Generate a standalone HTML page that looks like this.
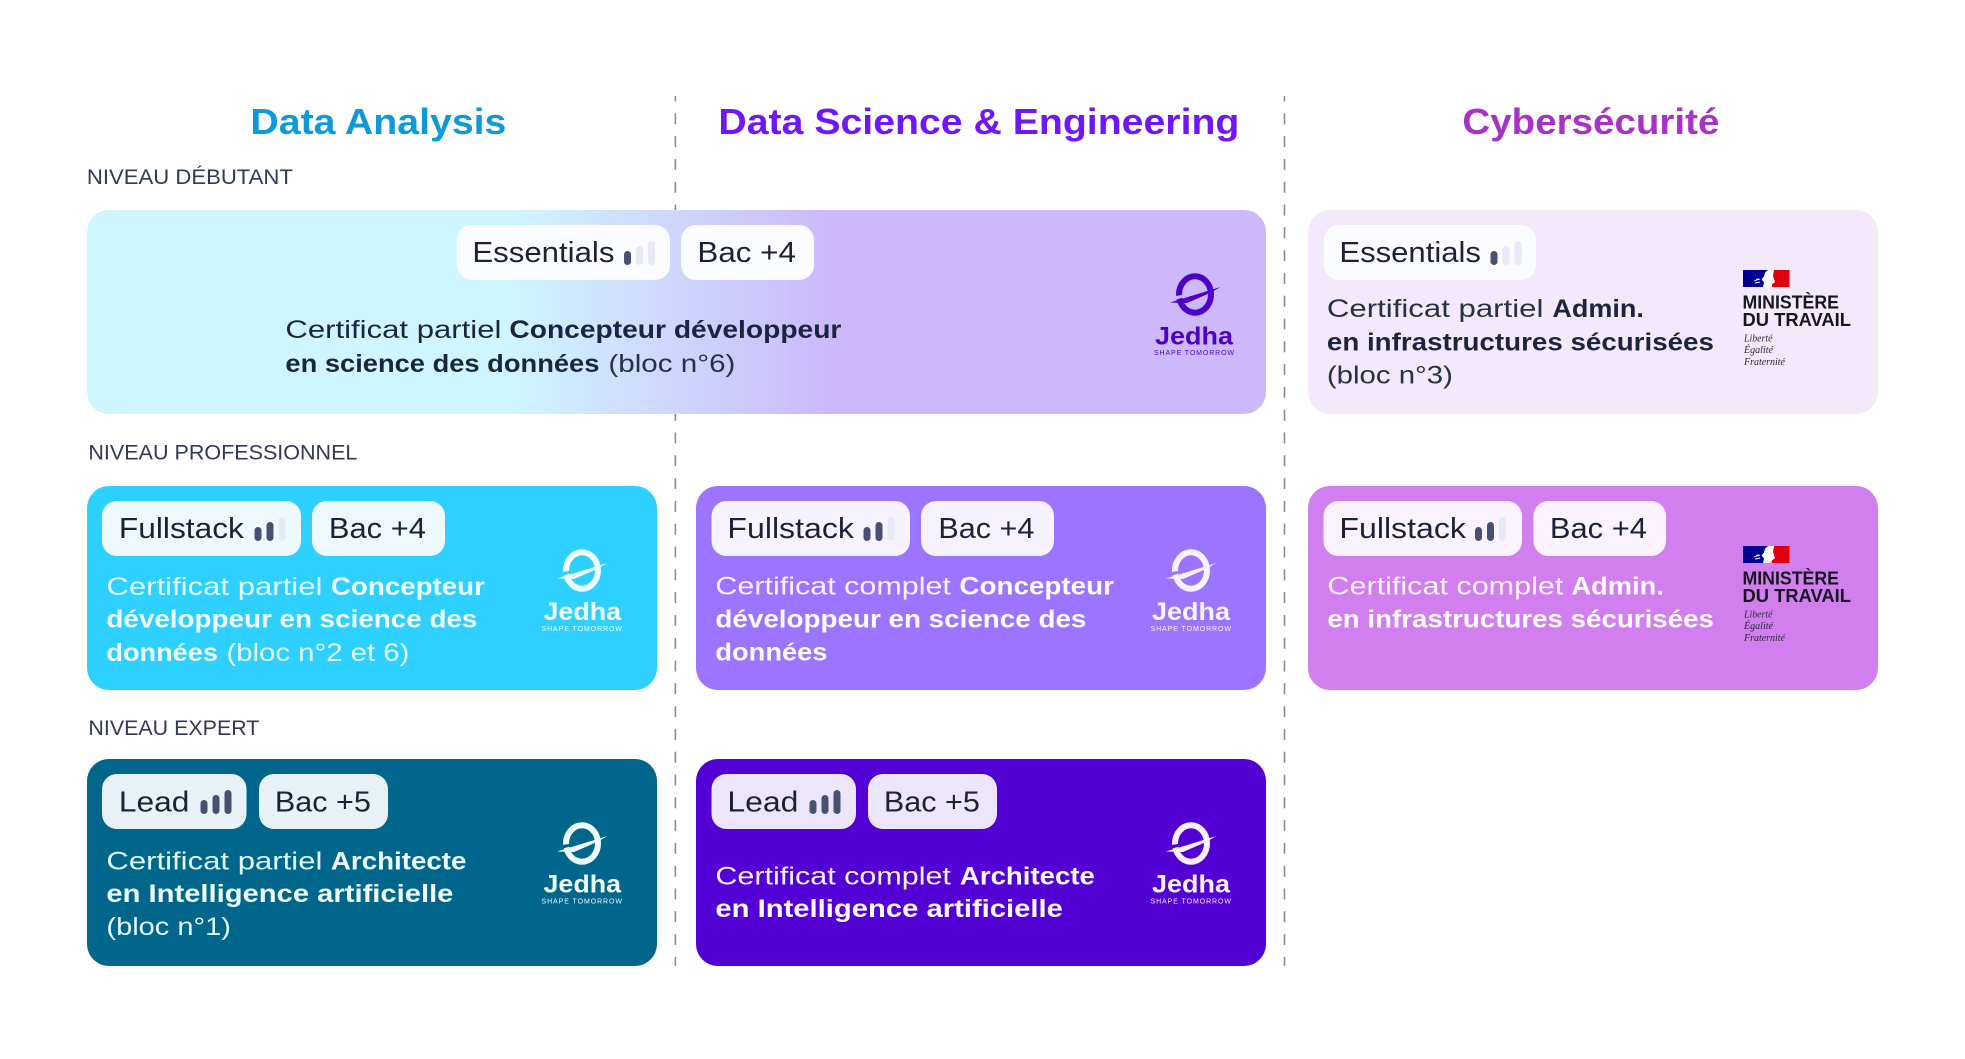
<!DOCTYPE html>
<html lang="fr"><head><meta charset="utf-8"><title>Parcours Jedha</title>
<style>
html,body{margin:0;padding:0;background:#fff}
svg{display:block}
text{font-family:"Liberation Sans",sans-serif}
.h,.n,.p,.c,.b{transform:translateX(-0.6px)}
.h{font-size:36px;font-weight:700}
.n{font-size:21px;fill:#2f3a58}
.p{font-size:29px;fill:#1b2238}
.c{font-size:25px}
.b{font-size:25px;font-weight:700}
.d{fill:#1b2540}
.dd{fill:#27304a}
.l{fill:#e2f8ff}
.lb{fill:#eefcff}
.w{fill:#f7f1ff}
.wb{fill:#fcfaff}
.j{font-size:25px;font-weight:700}
.t{font-size:7px}
.m{font-size:18px;font-weight:700;fill:#16161d}
.f{font-size:10.5px;font-style:italic;fill:#2a2a33;font-family:"Liberation Serif",serif}
.on{fill:#465171}
.off{fill:#e5ebf6}
</style></head><body>
<svg xmlns="http://www.w3.org/2000/svg" width="1965" height="1059" viewBox="0 0 1965 1059">
<defs>
<linearGradient id="g" gradientUnits="userSpaceOnUse" x1="510" y1="0" x2="835" y2="0"><stop offset="0" stop-color="#cff5fe"/><stop offset="1" stop-color="#ccb8fb"/></linearGradient>
<mask id="mk" maskUnits="userSpaceOnUse" x="-30" y="-30" width="60" height="60"><rect x="-30" y="-30" width="60" height="60" fill="#fff"/><polygon points="-26,7.2 -10,2.4 -10,0 -26,2.5" fill="#000"/></mask>
<g id="o"><ellipse cx="0" cy="0" rx="16" ry="18.2" fill="none" stroke="currentColor" stroke-width="6" mask="url(#mk)"/><polygon points="-25,8 25.5,-7.5 15,-1.5 -8,8.5" fill="currentColor"/></g>
<g id="b1"><rect x="0" y="26" width="7" height="14" rx="3.5" class="on"/><rect x="12" y="21" width="7" height="19" rx="3.5" class="off"/><rect x="24" y="16" width="7" height="24" rx="3.5" class="off"/></g>
<g id="b2"><rect x="0" y="26" width="7" height="14" rx="3.5" class="on"/><rect x="12" y="21" width="7" height="19" rx="3.5" class="on"/><rect x="24" y="16" width="7" height="24" rx="3.5" class="off"/></g>
<g id="b3"><rect x="0" y="26" width="7" height="14" rx="3.5" class="on"/><rect x="12" y="21" width="7" height="19" rx="3.5" class="on"/><rect x="24" y="16" width="7" height="24" rx="3.5" class="on"/></g>
<g id="flag"><rect x="0" y="0" width="25" height="17" fill="#000091"/><rect x="29" y="0" width="17.5" height="17" fill="#e1000f"/><path d="M20 17L21 12.5 18.5 9.5 21 6.5Q22 0 27 0L31 0 30 6 32 12Q28 15 27 17Z" fill="#fff"/><path d="M11 11l6-2M12 13l5-1M13 9.5l3-.5" stroke="#fff" stroke-width=".9" fill="none"/></g>
</defs>

<g stroke="#8c8c8c" stroke-width="1.6" stroke-dasharray="11 11.8" stroke-dashoffset="5.5"><line x1="675.4" y1="96" x2="675.4" y2="966"/><line x1="1284.5" y1="96" x2="1284.5" y2="966"/></g>

<text class="h" x="251" y="134" textLength="256" lengthAdjust="spacingAndGlyphs" fill="#0e9ad8">Data Analysis</text>
<text class="h" x="719" y="134" textLength="521" lengthAdjust="spacingAndGlyphs" fill="#6f16fb">Data Science &amp; Engineering</text>
<text class="h" x="1463" y="134" textLength="257" lengthAdjust="spacingAndGlyphs" fill="#a832c8">Cybersécurité</text>

<text class="n" x="87.5" y="184" textLength="206" lengthAdjust="spacingAndGlyphs">NIVEAU DÉBUTANT</text>
<text class="n" x="89" y="459.5" textLength="269" lengthAdjust="spacingAndGlyphs">NIVEAU PROFESSIONNEL</text>
<text class="n" x="89" y="735" textLength="171" lengthAdjust="spacingAndGlyphs">NIVEAU EXPERT</text>

<!-- cards -->
<rect x="87" y="210" width="1179" height="204" rx="22" fill="url(#g)"/>
<rect x="1308" y="210" width="570" height="204" rx="22" fill="#f4e9fb"/>
<rect x="87" y="486" width="570" height="204" rx="22" fill="#2dd0ff"/>
<rect x="696" y="486" width="570" height="204" rx="22" fill="#9b74ff"/>
<rect x="1308" y="486" width="570" height="204" rx="22" fill="#d17fee"/>
<rect x="87" y="759" width="570" height="207" rx="22" fill="#00668c"/>
<rect x="696" y="759" width="570" height="207" rx="22" fill="#5200d4"/>

<!-- pills -->
<g fill="#fbfcff">
<rect x="457" y="225" width="213" height="55" rx="15"/><rect x="681" y="225" width="133" height="55" rx="15"/>
<rect x="1324" y="225" width="212" height="55" rx="15"/>
</g>
<g fill="#edf9fe"><rect x="102" y="501" width="199" height="55" rx="15"/><rect x="312" y="501" width="133" height="55" rx="15"/></g>
<g fill="#f7f2ff"><rect x="711.5" y="501" width="198.5" height="55" rx="15"/><rect x="921" y="501" width="133" height="55" rx="15"/></g>
<g fill="#faf2fe"><rect x="1323.5" y="501" width="198.5" height="55" rx="15"/><rect x="1533.5" y="501" width="132.5" height="55" rx="15"/></g>
<g fill="#e8f1f5"><rect x="102" y="774" width="144.5" height="55" rx="15"/><rect x="259" y="774" width="129" height="55" rx="15"/></g>
<g fill="#ede6fa"><rect x="711.5" y="774" width="144.5" height="55" rx="15"/><rect x="868" y="774" width="129" height="55" rx="15"/></g>

<!-- pill text -->
<text class="p" x="473" y="262" textLength="142" lengthAdjust="spacingAndGlyphs">Essentials</text>
<use href="#b1" x="624" y="225"/>
<text class="p" x="698" y="262" textLength="98.5" lengthAdjust="spacingAndGlyphs">Bac +4</text>
<text class="p" x="1340" y="262" textLength="141.5" lengthAdjust="spacingAndGlyphs">Essentials</text>
<use href="#b1" x="1490.5" y="225"/>

<text class="p" x="119.5" y="538" textLength="125" lengthAdjust="spacingAndGlyphs">Fullstack</text>
<use href="#b2" x="254.5" y="501"/>
<text class="p" x="329.5" y="538" textLength="97" lengthAdjust="spacingAndGlyphs">Bac +4</text>

<text class="p" x="728" y="538" textLength="126.5" lengthAdjust="spacingAndGlyphs">Fullstack</text>
<use href="#b2" x="863.5" y="501"/>
<text class="p" x="939" y="538" textLength="96" lengthAdjust="spacingAndGlyphs">Bac +4</text>

<text class="p" x="1340" y="538" textLength="126.5" lengthAdjust="spacingAndGlyphs">Fullstack</text>
<use href="#b2" x="1475" y="501"/>
<text class="p" x="1550.5" y="538" textLength="97" lengthAdjust="spacingAndGlyphs">Bac +4</text>

<text class="p" x="119.5" y="811.5" textLength="70.5" lengthAdjust="spacingAndGlyphs">Lead</text>
<use href="#b3" x="200.5" y="774"/>
<text class="p" x="275.5" y="811.5" textLength="96" lengthAdjust="spacingAndGlyphs">Bac +5</text>

<text class="p" x="728" y="811.5" textLength="71" lengthAdjust="spacingAndGlyphs">Lead</text>
<use href="#b3" x="809.5" y="774"/>
<text class="p" x="884.5" y="811.5" textLength="96" lengthAdjust="spacingAndGlyphs">Bac +5</text>

<!-- body: top gradient -->
<text class="c d" x="286" y="338" textLength="216" lengthAdjust="spacingAndGlyphs">Certificat partiel</text>
<text class="b d" x="510" y="338" textLength="332" lengthAdjust="spacingAndGlyphs">Concepteur développeur</text>
<text class="b d" x="286" y="372" textLength="314" lengthAdjust="spacingAndGlyphs">en science des données</text>
<text class="c dd" x="609" y="372" textLength="127" lengthAdjust="spacingAndGlyphs">(bloc n°6)</text>

<!-- cyber top -->
<text class="c dd" x="1327.5" y="317" textLength="216.5" lengthAdjust="spacingAndGlyphs">Certificat partiel</text>
<text class="b d" x="1553" y="317" textLength="91.5" lengthAdjust="spacingAndGlyphs">Admin.</text>
<text class="b d" x="1327.5" y="350.5" textLength="387" lengthAdjust="spacingAndGlyphs">en infrastructures sécurisées</text>
<text class="c dd" x="1327.5" y="383.5" textLength="126" lengthAdjust="spacingAndGlyphs">(bloc n°3)</text>

<!-- col1 row2 -->
<text class="c l" x="107" y="595" textLength="216" lengthAdjust="spacingAndGlyphs">Certificat partiel</text>
<text class="b lb" x="331.5" y="595" textLength="154" lengthAdjust="spacingAndGlyphs">Concepteur</text>
<text class="b lb" x="107" y="627.5" textLength="371" lengthAdjust="spacingAndGlyphs">développeur en science des</text>
<text class="b lb" x="107" y="661" textLength="111.5" lengthAdjust="spacingAndGlyphs">données</text>
<text class="c l" x="227" y="661" textLength="183" lengthAdjust="spacingAndGlyphs">(bloc n°2 et 6)</text>

<!-- col2 row2 -->
<text class="c w" x="716" y="594.5" textLength="235.5" lengthAdjust="spacingAndGlyphs">Certificat complet</text>
<text class="b wb" x="960" y="594.5" textLength="154.5" lengthAdjust="spacingAndGlyphs">Concepteur</text>
<text class="b wb" x="716" y="627.5" textLength="371" lengthAdjust="spacingAndGlyphs">développeur en science des</text>
<text class="b wb" x="716" y="660.5" textLength="112" lengthAdjust="spacingAndGlyphs">données</text>

<!-- col3 row2 -->
<text class="c w" x="1328" y="594.5" textLength="236" lengthAdjust="spacingAndGlyphs">Certificat complet</text>
<text class="b wb" x="1572" y="594.5" textLength="92.5" lengthAdjust="spacingAndGlyphs">Admin.</text>
<text class="b wb" x="1328" y="627.5" textLength="386.5" lengthAdjust="spacingAndGlyphs">en infrastructures sécurisées</text>

<!-- col1 row3 -->
<text class="c l" x="107" y="869.5" textLength="216" lengthAdjust="spacingAndGlyphs">Certificat partiel</text>
<text class="b lb" x="331.5" y="869.5" textLength="135.5" lengthAdjust="spacingAndGlyphs">Architecte</text>
<text class="b lb" x="107" y="902" textLength="347" lengthAdjust="spacingAndGlyphs">en Intelligence artificielle</text>
<text class="c l" x="107" y="935" textLength="124.5" lengthAdjust="spacingAndGlyphs">(bloc n°1)</text>

<!-- col2 row3 -->
<text class="c w" x="716" y="884.5" textLength="235.5" lengthAdjust="spacingAndGlyphs">Certificat complet</text>
<text class="b wb" x="960.5" y="884.5" textLength="135" lengthAdjust="spacingAndGlyphs">Architecte</text>
<text class="b wb" x="716" y="917" textLength="347.5" lengthAdjust="spacingAndGlyphs">en Intelligence artificielle</text>

<!-- Jedha logos -->
<g style="color:#4c00c8" fill="#4c00c8"><use href="#o" x="1195" y="294.5"/>
<text class="j" x="1155" y="344.5" textLength="78" lengthAdjust="spacingAndGlyphs">Jedha</text>
<text class="t" x="1154" y="355" textLength="80">SHAPE TOMORROW</text></g>

<g style="color:#eefcff" fill="#eefcff"><use href="#o" x="582" y="570.5"/>
<text class="j" x="543.5" y="620" textLength="77.5" lengthAdjust="spacingAndGlyphs">Jedha</text>
<text class="t" x="541.5" y="631" textLength="80.5">SHAPE TOMORROW</text></g>

<g style="color:#f8f2ff" fill="#f8f2ff"><use href="#o" x="1191" y="570.5"/>
<text class="j" x="1152" y="620" textLength="78" lengthAdjust="spacingAndGlyphs">Jedha</text>
<text class="t" x="1150.5" y="631" textLength="80.5">SHAPE TOMORROW</text></g>

<g style="color:#eefcff" fill="#eefcff"><use href="#o" x="582" y="843.5"/>
<text class="j" x="543.5" y="892.5" textLength="77.5" lengthAdjust="spacingAndGlyphs">Jedha</text>
<text class="t" x="541.5" y="903.5" textLength="80.5">SHAPE TOMORROW</text></g>

<g style="color:#f8f2ff" fill="#f8f2ff"><use href="#o" x="1191" y="843.5"/>
<text class="j" x="1152" y="892.5" textLength="78" lengthAdjust="spacingAndGlyphs">Jedha</text>
<text class="t" x="1150.5" y="903.5" textLength="80.5">SHAPE TOMORROW</text></g>

<!-- Ministère logos -->
<use href="#flag" x="1743" y="270"/>
<text class="m" x="1742.5" y="308.5" textLength="96.5" lengthAdjust="spacingAndGlyphs">MINISTÈRE</text>
<text class="m" x="1742.5" y="326" textLength="108.5" lengthAdjust="spacingAndGlyphs">DU TRAVAIL</text>
<text class="f" x="1744" y="341.5" textLength="28.5" lengthAdjust="spacingAndGlyphs">Liberté</text>
<text class="f" x="1744" y="353" textLength="29" lengthAdjust="spacingAndGlyphs">Égalité</text>
<text class="f" x="1744" y="365" textLength="41" lengthAdjust="spacingAndGlyphs">Fraternité</text>

<use href="#flag" x="1743" y="546"/>
<text class="m" x="1742.5" y="584.5" textLength="96.5" lengthAdjust="spacingAndGlyphs">MINISTÈRE</text>
<text class="m" x="1742.5" y="602" textLength="108.5" lengthAdjust="spacingAndGlyphs">DU TRAVAIL</text>
<text class="f" x="1744" y="617.5" textLength="28.5" lengthAdjust="spacingAndGlyphs">Liberté</text>
<text class="f" x="1744" y="629" textLength="29" lengthAdjust="spacingAndGlyphs">Égalité</text>
<text class="f" x="1744" y="641" textLength="41" lengthAdjust="spacingAndGlyphs">Fraternité</text>
</svg>
</body></html>
